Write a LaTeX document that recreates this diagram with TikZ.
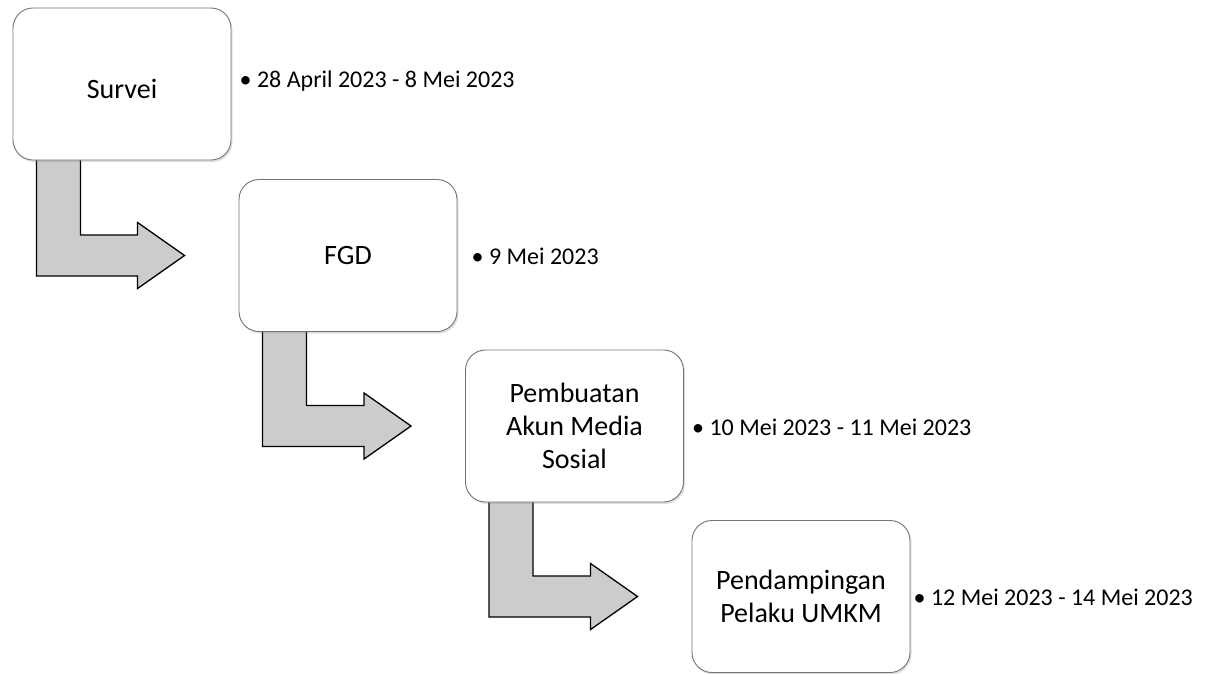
\documentclass[tikz,border=0pt]{standalone}
\usepackage{fontspec}
\setmainfont{Carlito}
\usetikzlibrary{shadows,backgrounds,calc}
\newcommand\flowarrow[2]{%
  \draw[flow] let \p1=(#1.south west), \p2=(#2.west) in
    (\x1+24pt,\y1+3pt) -- (\x1+24pt,\y2-20.5pt) -- (\x2-101pt,\y2-20.5pt)
    -- (\x2-101pt,\y2-33pt) -- (\x2-54pt,\y2) -- (\x2-101pt,\y2+33pt)
    -- (\x2-101pt,\y2+20.5pt) -- (\x1+68pt,\y2+20.5pt) -- (\x1+68pt,\y1+3pt);}
\begin{document}
\begin{tikzpicture}[x=1pt,y=-1pt]
\tikzset{
  stage/.style={draw=black!55, line width=0.9pt, fill=white, rounded corners=20pt,
    minimum width=218pt, minimum height=152pt, align=center, inner sep=0pt,
    font=\fontsize{28}{33}\selectfont,
    drop shadow={opacity=0.25, shadow xshift=1.5pt, shadow yshift=-2pt}},
  datetext/.style={anchor=west, inner sep=0pt, font=\fontsize{24}{29}\selectfont},
  flow/.style={draw=black, line width=1.3pt, fill=black!20, line join=miter}
}
\useasboundingbox (0,0) rectangle (1205,673);
\node[stage] (s1) at (122,84) {\raisebox{0pt}[28pt][0pt]{Survei}};
\node[stage] (s2) at (348,255.5) {FGD};
\node[stage] (s3) at (574.5,426) {Pembuatan\\Akun Media\\Sosial};
\node[stage] (s4) at (801,596.5) {Pendampingan\\Pelaku UMKM};
\node[datetext] (d1) at ($(s1.east)+(8,-3)$) {• 28 April 2023 - 8 Mei 2023};
\node[datetext] (d2) at ($(s2.east)+(14,0.5)$) {• 9 Mei 2023};
\node[datetext] (d3) at ($(s3.east)+(8,1)$) {• 10 Mei 2023 - 11 Mei 2023};
\node[datetext] (d4) at ($(s4.east)+(3,0.5)$) {• 12 Mei 2023 - 14 Mei 2023};
\begin{scope}[on background layer]
  \flowarrow{s1}{s2}
  \flowarrow{s2}{s3}
  \flowarrow{s3}{s4}
\end{scope}
\end{tikzpicture}
\end{document}
